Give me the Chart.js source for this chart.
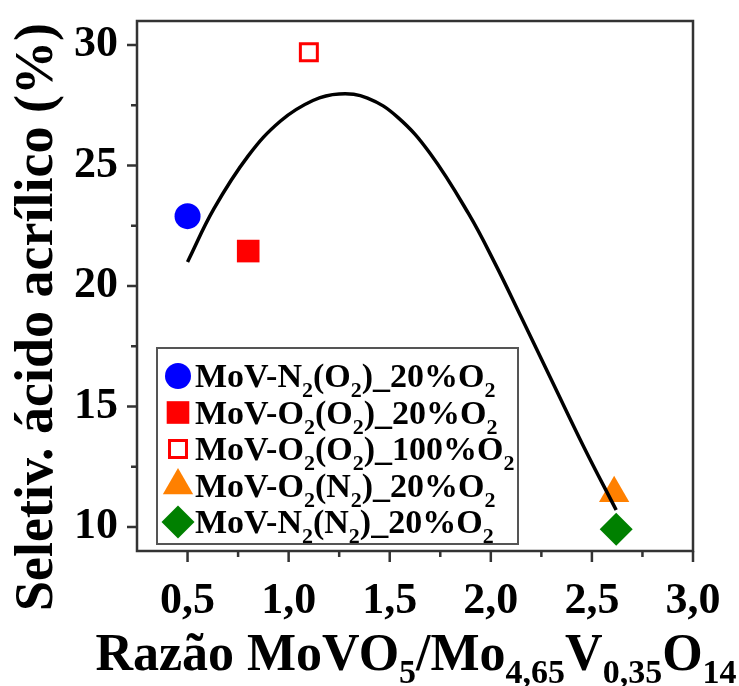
<!DOCTYPE html>
<html>
  <head>
    <meta charset="utf-8"/>
    <style>
      html, body { margin: 0; padding: 0; background: #ffffff; }
    </style>
  </head>
  <body>
    <canvas id="chart-area" width="739" height="686"></canvas>

    <script src="https://cdn.jsdelivr.net/npm/chart.js@4/dist/chart.umd.min.js"></script>
    <script>
        // samples: [n] marks a subscript
        var sampleNames  = ['MoV-N[2](O[2])_20%O[2]', 'MoV-O[2](O[2])_20%O[2]', 'MoV-O[2](O[2])_100%O[2]', 'MoV-O[2](N[2])_20%O[2]', 'MoV-N[2](N[2])_20%O[2]'];
        var sampleRatio  = [0.50, 0.80, 1.10, 2.61, 2.62];
        var sampleSelect = [22.9, 21.45, 29.7, 11.4, 9.9];
        var sampleColors = ['#0000ff', '#ff0000', '#ff0000', '#ff8000', '#008000'];
        var sampleShapes = ['circle', 'rect', 'rect', 'triangle', 'rectRot'];
        var sampleFilled = [true, true, false, true, true];
        var sampleSizes  = [13, 16, 12, 17.5, 16.5];

        // fitted trend curve
        var fitRatio  = [0.50, 0.63, 0.80, 0.96, 1.12, 1.25, 1.39, 1.54, 1.70, 1.89, 2.02, 2.15, 2.30, 2.46, 2.62];
        var fitSelect = [21.0, 23.2, 25.4, 26.85, 27.7, 27.97, 27.8, 27.0, 25.5, 23.0, 20.95, 18.71, 16.10, 13.32, 10.70];

        var xTickValues = [0.5, 0.75, 1.0, 1.25, 1.5, 1.75, 2.0, 2.25, 2.5, 2.75, 3.0];
        var yTickValues = [10, 12.5, 15, 17.5, 20, 22.5, 25, 27.5, 30];

        var xTitle = 'Razão MoVO[5]/Mo[4,65]V[0,35]O[14]';
        var yTitle = 'Seletiv. ácido acrílico (%)';

        var FONT = '"Liberation Serif", "Times New Roman", serif';

        // draws text with [..] parts as subscripts, returns width
        var drawRich = function(ctx, str, x, y, size, subDrop) {
            var parts = str.split(/(\[[^\]]*\])/);
            var cx = x;
            for (var i = 0; i < parts.length; i++) {
                var p = parts[i];
                if (!p) continue;
                if (p.charAt(0) === '[') {
                    ctx.font = 'bold ' + Math.round(size * 0.66) + 'px ' + FONT;
                    var t = p.slice(1, -1);
                    ctx.fillText(t, cx, y + size * subDrop);
                    cx += ctx.measureText(t).width;
                } else {
                    ctx.font = 'bold ' + size + 'px ' + FONT;
                    ctx.fillText(p, cx, y);
                    cx += ctx.measureText(p).width;
                }
            }
            return cx - x;
        };

        var isMultiple = function(v, step) {
            return Math.abs(v / step - Math.round(v / step)) < 1e-6;
        };

        var datasets = [{
            type: 'line',
            label: 'fit',
            data: fitRatio.map(function(x, i) { return {x: x, y: fitSelect[i]}; }),
            borderColor: '#000000',
            borderWidth: 3.5,
            pointRadius: 0,
            tension: 0.4,
            fill: false,
            order: 0
        }];
        for (var i = 0; i < sampleNames.length; i++) {
            datasets.push({
                type: 'scatter',
                label: sampleNames[i],
                data: [{x: sampleRatio[i], y: sampleSelect[i]}],
                pointStyle: sampleShapes[i],
                pointRadius: sampleSizes[i],
                pointHoverRadius: sampleSizes[i],
                backgroundColor: sampleFilled[i] ? sampleColors[i] : '#ffffff',
                borderColor: sampleColors[i],
                pointBorderWidth: sampleFilled[i] ? 0 : 3,
                order: 1
            });
        }

        // frame, tick marks, axis titles and legend box
        var decorations = {
            id: 'decorations',
            afterDraw: function(chart) {
                var ctx = chart.ctx;
                var area = chart.chartArea;
                var xs = chart.scales.x, ys = chart.scales.y;
                ctx.save();
                ctx.strokeStyle = '#333333';
                ctx.lineWidth = 2.5;
                ctx.strokeRect(area.left, area.top, area.right - area.left, area.bottom - area.top);

                ctx.beginPath();
                xs.ticks.forEach(function(t) {
                    var px = xs.getPixelForValue(t.value);
                    var len = isMultiple(t.value, 0.5) ? 11 : 6;
                    ctx.moveTo(px, area.bottom);
                    ctx.lineTo(px, area.bottom + len);
                });
                ys.ticks.forEach(function(t) {
                    var py = ys.getPixelForValue(t.value);
                    var len = isMultiple(t.value, 5) ? 10 : 6;
                    ctx.moveTo(area.left, py);
                    ctx.lineTo(area.left - len, py);
                });
                ctx.stroke();

                // axis titles
                ctx.fillStyle = '#000000';
                ctx.textBaseline = 'alphabetic';
                ctx.textAlign = 'left';
                var probe = document.createElement('canvas').getContext('2d');
                var xw = drawRich(probe, xTitle, 0, 0, 52, 0.25);
                drawRich(ctx, xTitle, (area.left + area.right) / 2 - xw / 2 + 1, 670, 52, 0.25);

                ctx.save();
                ctx.translate(52, 317);
                ctx.rotate(-Math.PI / 2);
                ctx.textAlign = 'center';
                ctx.font = 'bold 54px ' + FONT;
                ctx.fillText(yTitle, 0, 0);
                ctx.restore();

                // legend
                var lx = 157, ly = 348, lw = 361, lh = 196;
                ctx.fillStyle = '#ffffff';
                ctx.fillRect(lx, ly, lw, lh);
                ctx.strokeStyle = '#555555';
                ctx.lineWidth = 2;
                ctx.strokeRect(lx, ly, lw, lh);
                for (var k = 0; k < sampleNames.length; k++) {
                    var cy = ly + 28 + k * 36.5;
                    ctx.fillStyle = sampleFilled[k] ? sampleColors[k] : '#ffffff';
                    ctx.strokeStyle = sampleColors[k];
                    ctx.lineWidth = sampleFilled[k] ? 0 : 3;
                    Chart.helpers.drawPoint(ctx, {
                        pointStyle: sampleShapes[k],
                        radius: sampleSizes[k],
                        rotation: 0,
                        borderWidth: sampleFilled[k] ? 0 : 3
                    }, lx + 21, cy);
                    ctx.fillStyle = '#000000';
                    drawRich(ctx, sampleNames[k], lx + 38, cy + 11, 34, 0.3);
                }
                ctx.restore();
            }
        };

        var ctx = document.getElementById('chart-area').getContext('2d');
        var chart = new Chart(ctx, {
            data: { datasets: datasets },
            options: {
                responsive: false,
                animation: false,
                layout: { padding: { top: 21, right: 46, left: 0, bottom: 0 } },
                plugins: {
                    legend: { display: false },
                    tooltip: { enabled: false }
                },
                scales: {
                    x: {
                        type: 'linear',
                        min: 0.25,
                        max: 3.0,
                        grid: { display: false, drawTicks: false },
                        border: { display: false },
                        afterBuildTicks: function(scale) {
                            scale.ticks = xTickValues.map(function(v) { return {value: v}; });
                        },
                        ticks: {
                            autoSkip: false,
                            maxRotation: 0,
                            padding: 24,
                            color: '#000000',
                            font: { family: FONT, size: 44, weight: 'bold' },
                            callback: function(v) {
                                return isMultiple(v, 0.5) ? v.toFixed(1).replace('.', ',') : '';
                            }
                        },
                        afterFit: function(scale) {
                            scale.height = 135;
                            scale.paddingLeft = 0;
                            scale.paddingRight = 0;
                        }
                    },
                    y: {
                        type: 'linear',
                        min: 9,
                        max: 31,
                        grid: { display: false, drawTicks: false },
                        border: { display: false },
                        afterBuildTicks: function(scale) {
                            scale.ticks = yTickValues.map(function(v) { return {value: v}; });
                        },
                        ticks: {
                            autoSkip: false,
                            padding: 19,
                            color: '#000000',
                            font: { family: FONT, size: 44, weight: 'bold' },
                            callback: function(v) {
                                return isMultiple(v, 5) ? String(v) : '';
                            }
                        },
                        afterFit: function(scale) {
                            scale.width = 137;
                            scale.paddingTop = 0;
                            scale.paddingBottom = 0;
                        }
                    }
                }
            },
            plugins: [decorations]
        });
    </script>
  </body>
</html>
